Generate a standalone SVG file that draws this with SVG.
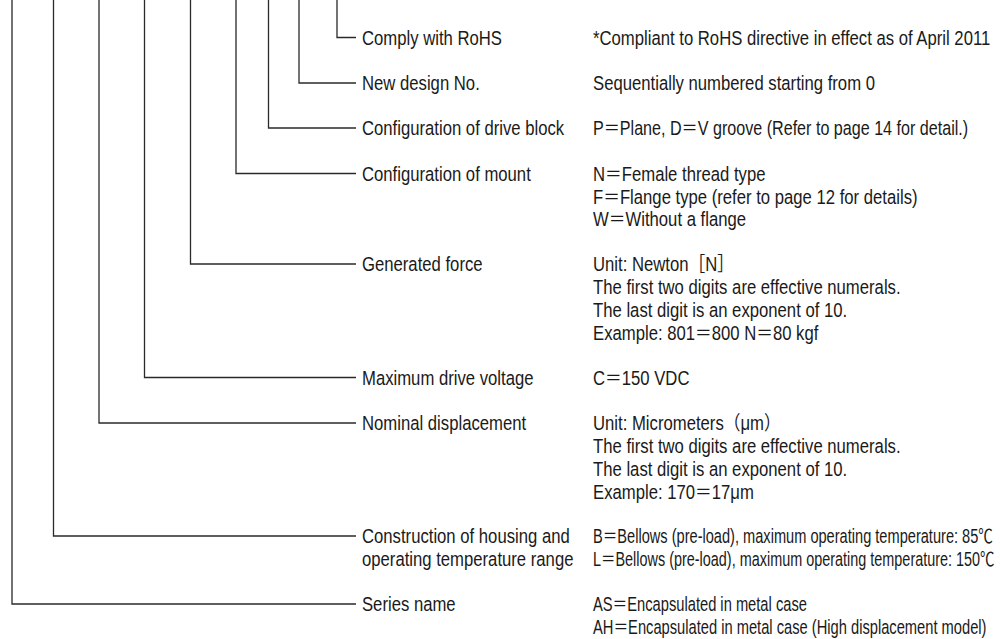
<svg xmlns="http://www.w3.org/2000/svg" width="1000" height="639" viewBox="0 0 1000 639">
<style>
.t{font-family:"Liberation Sans","Noto Sans CJK JP",sans-serif;font-size:19.5px;fill:#1a1a1a}
.c{fill:none;stroke:#2a2a2a;stroke-width:1.3}
</style>
<rect width="1000" height="639" fill="#ffffff"/>
<g id="connectors">
<path class="c" d="M337,0 V37.5 H356"/>
<path class="c" d="M299,0 V83 H356"/>
<path class="c" d="M268.5,0 V128 H356"/>
<path class="c" d="M236,0 V173.5 H356"/>
<path class="c" d="M190.5,0 V264 H356"/>
<path class="c" d="M144.5,0 V377.5 H356"/>
<path class="c" d="M99,0 V423 H356"/>
<path class="c" d="M53.5,0 V536 H356"/>
<path class="c" d="M12,0 V604 H356"/>
</g>
<g id="rohs" transform="scale(0.856 1)">
<text class="t" x="422.9" y="45">Comply with RoHS</text>
<text class="t" x="692.8" y="45">*Compliant to RoHS directive in effect as of April 2011</text>
</g>
<g id="design" transform="scale(0.856 1)">
<text class="t" x="422.9" y="90.5">New design No.</text>
<text class="t" x="692.8" y="90.5">Sequentially numbered starting from 0</text>
</g>
<g id="driveblock">
<text class="t" transform="scale(0.856 1)" x="422.9" y="135.5">Configuration of drive block</text>
<text class="t" transform="scale(0.827 1)" x="717.0" y="135.5">P＝Plane, D＝V groove (Refer to page 14 for detail.)</text>
</g>
<g id="mount" transform="scale(0.856 1)">
<text class="t" x="422.9" y="181">Configuration of mount</text>
<text class="t" x="692.8" y="181">N＝Female thread type</text>
<text class="t" x="692.8" y="203.7">F＝Flange type (refer to page 12 for details)</text>
<text class="t" x="692.8" y="226.4">W＝Without a flange</text>
</g>
<g id="force" transform="scale(0.856 1)">
<text class="t" x="422.9" y="271.5">Generated force</text>
<text class="t" x="692.8" y="271.5">Unit: Newton［N］</text>
<text class="t" x="692.8" y="294.2">The first two digits are effective numerals.</text>
<text class="t" x="692.8" y="316.9">The last digit is an exponent of 10.</text>
<text class="t" x="692.8" y="339.6">Example: 801＝800 N＝80 kgf</text>
</g>
<g id="voltage" transform="scale(0.856 1)">
<text class="t" x="422.9" y="385">Maximum drive voltage</text>
<text class="t" x="692.8" y="385">C＝150 VDC</text>
</g>
<g id="displacement" transform="scale(0.856 1)">
<text class="t" x="422.9" y="430.5">Nominal displacement</text>
<text class="t" x="692.8" y="430.5">Unit: Micrometers（μm）</text>
<text class="t" x="692.8" y="453.2">The first two digits are effective numerals.</text>
<text class="t" x="692.8" y="475.9">The last digit is an exponent of 10.</text>
<text class="t" x="692.8" y="498.6">Example: 170＝17μm</text>
</g>
<g id="housing">
<text class="t" transform="scale(0.856 1)" x="422.9" y="543.5">Construction of housing and</text>
<text class="t" transform="scale(0.856 1)" x="422.9" y="566.2">operating temperature range</text>
<text class="t" transform="scale(0.749 1)" x="791.7" y="543.5">B＝Bellows (pre-load), maximum operating temperature: 85℃</text>
<text class="t" transform="scale(0.740 1)" x="801.4" y="566.2">L＝Bellows (pre-load), maximum operating temperature: 150℃</text>
</g>
<g id="series">
<text class="t" transform="scale(0.856 1)" x="422.9" y="611.5">Series name</text>
<text class="t" transform="scale(0.754 1)" x="786.5" y="611.5">AS＝Encapsulated in metal case</text>
<text class="t" transform="scale(0.754 1)" x="786.5" y="634.2">AH＝Encapsulated in metal case (High displacement model)</text>
</g>
</svg>
